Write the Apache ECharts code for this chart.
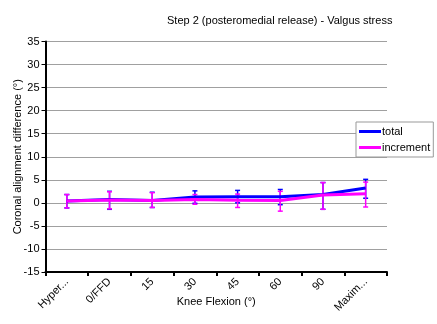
<!DOCTYPE html>
<html>
<head>
<meta charset="utf-8">
<style>
  html, body { margin: 0; padding: 0; background: #fff; }
  #chart { width: 437px; height: 324px; }
</style>
<script src="https://cdn.jsdelivr.net/npm/echarts@6/dist/echarts.min.js"></script>
</head>
<body>
<div id="chart"></div>
<script>
// Knee flexion positions
const categories = ['Hyper...', '0/FFD', '15', '30', '45', '60', '90', 'Maxim...'];

// Mean coronal alignment difference (degrees)
const totalValues = [0.4, 0.7, 0.5, 1.25, 1.3, 1.3, 1.8, 3.2];
const incrementValues = [0.4, 0.6, 0.5, 0.7, 0.55, 0.5, 1.7, 2.0];

// Error bar extents (low, high)
const totalLow = [-1.1, -1.4, -1.0, -0.1, 0.0, -0.4, -1.4, 1.0];
const totalHigh = [1.8, 2.5, 2.3, 2.6, 2.7, 2.9, 4.4, 5.1];
const incrementLow = [-1.1, -1.3, -1.0, -0.3, -1.0, -1.8, -1.4, -0.9];
const incrementHigh = [1.8, 2.4, 2.2, 1.8, 1.9, 2.5, 4.4, 4.5];

const yTicks = { min: -15, max: 35, interval: 5 };

const BLUE = '#0000ff';
const MAGENTA = '#ff00ff';
const FONT = '"Liberation Sans", Arial, sans-serif';

function errorBars(low, high, color) {
  return {
    type: 'custom',
    silent: true,
    z: color === MAGENTA ? 4 : 3,
    data: categories.map((c, i) => [i, low[i], high[i]]),
    renderItem: function (params, api) {
      const i = api.value(0);
      const lo = api.coord([i, api.value(1)]);
      const hi = api.coord([i, api.value(2)]);
      const cap = 2.5;
      const style = { stroke: color, lineWidth: 1.5 };
      return {
        type: 'group',
        children: [
          { type: 'line', shape: { x1: lo[0], y1: lo[1], x2: hi[0], y2: hi[1] }, style: style },
          { type: 'line', shape: { x1: lo[0] - cap, y1: lo[1], x2: lo[0] + cap, y2: lo[1] }, style: style },
          { type: 'line', shape: { x1: hi[0] - cap, y1: hi[1], x2: hi[0] + cap, y2: hi[1] }, style: style }
        ]
      };
    }
  };
}

const chart = echarts.init(document.getElementById('chart'), null, { renderer: 'canvas' });

chart.setOption({
  animation: false,
  backgroundColor: '#ffffff',
  textStyle: { fontFamily: FONT },
  title: {
    text: 'Step 2 (posteromedial release) - Valgus stress',
    left: 162,
    top: 10,
    textStyle: { fontSize: 11, fontWeight: 'normal', color: '#000', fontFamily: FONT }
  },
  legend: {
    left: 356,
    top: 122,
    orient: 'vertical',
    itemGap: 5,
    itemWidth: 22,
    itemHeight: 3,
    padding: [4, 3, 4, 3],
    backgroundColor: '#fff',
    borderColor: '#999',
    borderWidth: 1,
    textStyle: { fontSize: 11, color: '#000', fontFamily: FONT, padding: [0, 0, 0, -4] },
    data: [
      { name: 'total', icon: 'rect' },
      { name: 'increment', icon: 'rect' }
    ]
  },
  grid: { left: 45.5, right: 50, top: 41.5, bottom: 52, containLabel: false },
  xAxis: {
    type: 'category',
    data: categories,
    boundaryGap: true,
    name: 'Knee Flexion (°)',
    nameLocation: 'middle',
    nameGap: 24,
    nameMoveOverlap: false,
    nameTextStyle: { fontSize: 11, color: '#000', fontFamily: FONT },
    axisLine: { onZero: false, lineStyle: { color: '#000', width: 2 } },
    axisTick: { show: true, length: 4, inside: false, lineStyle: { color: '#000', width: 2 } },
    axisLabel: { rotate: 45, fontSize: 11, color: '#000', margin: 8, fontFamily: FONT, interval: 0 },
    splitLine: { show: false }
  },
  yAxis: {
    type: 'value',
    min: yTicks.min,
    max: yTicks.max,
    interval: yTicks.interval,
    name: 'Coronal alignment difference (°)',
    nameLocation: 'middle',
    nameGap: 22,
    nameMoveOverlap: false,
    nameRotate: 90,
    nameTextStyle: { fontSize: 11, color: '#000', fontFamily: FONT },
    axisLine: { show: true, lineStyle: { color: '#000', width: 2 } },
    axisTick: { show: true, length: 4, lineStyle: { color: '#000', width: 1 } },
    axisLabel: { fontSize: 11, color: '#000', margin: 6, fontFamily: FONT },
    splitLine: { show: true, lineStyle: { color: '#a0a0a0', width: 1 } }
  },
  series: [
    errorBars(totalLow, totalHigh, BLUE),
    errorBars(incrementLow, incrementHigh, MAGENTA),
    {
      name: 'total',
      type: 'line',
      data: totalValues,
      symbol: 'none',
      z: 5,
      itemStyle: { color: BLUE },
      lineStyle: { color: BLUE, width: 3 }
    },
    {
      name: 'increment',
      type: 'line',
      data: incrementValues,
      symbol: 'none',
      z: 6,
      itemStyle: { color: MAGENTA },
      lineStyle: { color: MAGENTA, width: 3 }
    }
  ]
});
</script>
</body>
</html>
